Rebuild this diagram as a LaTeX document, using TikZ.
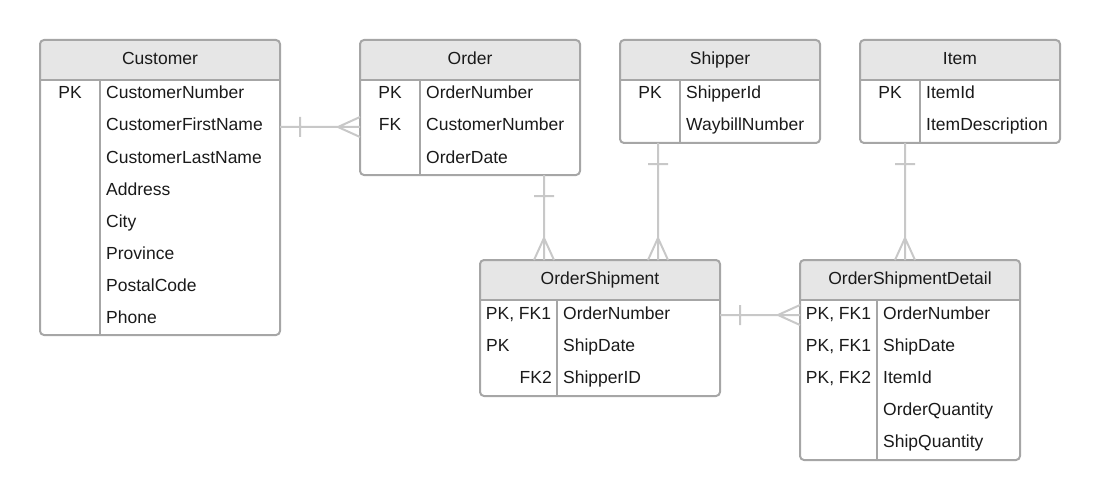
\documentclass[tikz,border=0pt]{standalone}
\usepackage{fontspec}
\setmainfont{Liberation Sans}
\usetikzlibrary{calc}
\definecolor{framegray}{HTML}{A6A6A6}
\definecolor{relgray}{HTML}{C8C8C8}
\definecolor{headgray}{HTML}{E6E6E6}
\definecolor{ink}{HTML}{1A1A1A}
\newcommand{\entity}[7]{\node[inner sep=0,outer sep=0,minimum width={(#4-#2)*1pt},minimum height={(#6-#3)*1pt},anchor=north west] (#1) at (#2,#3) {};
\fill[headgray,rounded corners=4] (#2,#3) rectangle (#4,#3+40);
\fill[headgray] (#2,#3+20) rectangle (#4,#3+40);
\draw[frame,rounded corners=4] (#1.north west) rectangle (#1.south east);
\draw[frame] (#2,#3+40)--(#4,#3+40) (#5,#3+40)--(#5,#6);
\node[anchor=base] (#1t) at ({(#2+#4)/2},#3+24.5) {#7};}
\newcommand{\relh}[2]{\draw[rel] (#1)--(#2) ($(#1)+(20,-10)$)--+(0,20) ($(#2)+(-22,0)$)--+(22,-10) ($(#2)+(-22,0)$)--+(22,10);}
\newcommand{\relv}[2]{\draw[rel] (#1)--(#2) ($(#1)+(-10,21)$)--+(20,0) ($(#2)+(0,-22)$)--+(-10,22) ($(#2)+(0,-22)$)--+(10,22);}
\begin{document}
\begin{tikzpicture}[x=1pt,y=-1pt,text=ink,font=\fontsize{17.5}{21}\selectfont,
  frame/.style={draw=framegray,line width=2pt},rel/.style={draw=relgray,line width=2pt},
  field/.style={anchor=base west,inner sep=0},key/.style={anchor=base,inner sep=0}]
\useasboundingbox (0,0) rectangle (1100,500);
\entity{cust}{40}{40}{280}{100}{335}{Customer}
\entity{ord}{360}{40}{580}{420}{175}{Order}
\entity{ship}{620}{40}{820}{680}{143}{Shipper}
\entity{item}{860}{40}{1060}{920}{143}{Item}
\entity{os}{480}{260}{720}{557}{396}{OrderShipment}
\entity{osd}{800}{260}{1020}{877}{460}{OrderShipmentDetail}
\coordinate (j1) at (0,127);
\coordinate (j2) at (544,0);
\coordinate (j3) at (658,0);
\coordinate (j4) at (905,0);
\coordinate (j5) at (0,315);
\relh{cust.east |- j1}{ord.west |- j1}
\relv{ord.south -| j2}{os.north -| j2}
\relv{ship.south -| j3}{os.north -| j3}
\relv{item.south -| j4}{osd.north -| j4}
\relh{os.east |- j5}{osd.west |- j5}
\foreach \f [count=\i] in {CustomerNumber,CustomerFirstName,CustomerLastName,Address,City,Province,PostalCode,Phone}
  \node[field] (cust\i) at (106,67+32*\i) {\f};
\foreach \f [count=\i] in {OrderNumber,CustomerNumber,OrderDate}
  \node[field] (ord\i) at (426,67+32*\i) {\f};
\foreach \f [count=\i] in {ShipperId,WaybillNumber}
  \node[field] (ship\i) at (686,67+32*\i) {\f};
\foreach \f [count=\i] in {ItemId,ItemDescription}
  \node[field] (item\i) at (926,67+32*\i) {\f};
\foreach \f [count=\i] in {OrderNumber,ShipDate,ShipperID}
  \node[field] (os\i) at (563,287.5+32*\i) {\f};
\foreach \f [count=\i] in {OrderNumber,ShipDate,ItemId,OrderQuantity,ShipQuantity}
  \node[field] (osd\i) at (883,287.5+32*\i) {\f};
\node[key] (custk) at (70,99) {PK};
\node[key] (ordk1) at (390,99) {PK};
\node[key] (ordk2) at (390,131) {FK};
\node[key] (shipk) at (650,99) {PK};
\node[key] (itemk) at (890,99) {PK};
\node[key] (osk1) at (518.5,319.5) {PK, FK1};
\node[key,anchor=base west] (osk2) at (486,351.5) {PK};
\node[key,anchor=base east] (osk3) at (552,383.5) {FK2};
\foreach \k [count=\i] in {FK1,FK1,FK2}
  \node[key] (osdk\i) at (838.5,287.5+32*\i) {PK, \k};
\end{tikzpicture}
\end{document}
